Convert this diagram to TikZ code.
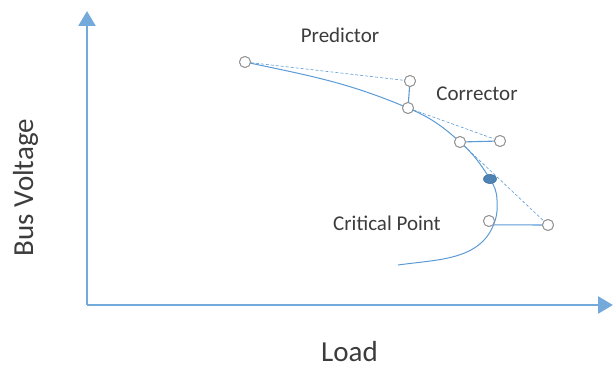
\documentclass[tikz,border=0pt]{standalone}
\usepackage{fontspec}
\setmainfont{Carlito}
\usepackage{xcolor}
\usetikzlibrary{arrows.meta,shapes.geometric}
\definecolor{accent}{RGB}{91,155,213}
\definecolor{txtgray}{RGB}{60,60,60}

\begin{document}
\begin{tikzpicture}[
    x=1pt,y=-1pt,
    font=\fontsize{21}{25}\selectfont,
    lbl/.style={text=txtgray,inner sep=0pt},
    biglbl/.style={lbl,font=\fontsize{29}{34}\selectfont,anchor=base},
    pt/.style={circle,draw=gray!85,fill=white,line width=0.9pt,minimum size=11pt,inner sep=0pt},
    critpt/.style={ellipse,draw=accent!70!black,fill=accent!85!black,line width=0.6pt,minimum width=13pt,minimum height=9pt,inner sep=0pt},
    pv/.style={accent,line width=1pt},
    dsh/.style={accent,densely dashed,line width=0.6pt},
    lnk/.style={accent,line width=1.1pt},
    axis/.style={accent!85,line width=2.6pt,-{Triangle[length=15pt,width=17pt]}}
  ]
    \useasboundingbox (0,0) rectangle (613,366);
    % axes
    \coordinate (orig) at (87,305);
    \coordinate (ytop) at (87,11);
    \coordinate (xend) at (613,305);
    \draw[axis] (orig) -- (ytop);
    \draw[axis] (orig) -- (xend);
    % points along the curve
    \coordinate (nose) at (497,200);
    \coordinate (tail) at (398,265);
    \node[pt] (start) at (245,62) {};
    \node[pt] (pred1) at (410,81) {};
    \node[pt] (corr1) at (408,108) {};
    \node[pt] (pred2) at (500,141) {};
    \node[pt] (corr2) at (460,142) {};
    \node[pt] (pred3) at (548,225) {};
    \node[pt] (corr3) at (489,221) {};
    % PV curve
    \draw[pv] (start.center) to[out=-12,in=157] (corr1.center)
      to[out=-23,in=138] (corr2.center)
      to[out=-42,in=122] (490,179)
      to[out=-58,in=92] (nose)
      to[out=-88,in=72] (corr3.east)
      to[out=-108,in=8] (tail);
    \node[critpt] (crit) at (490,179) {};
    % predictor / corrector steps
    \draw[dsh] (start) -- (pred1);
    \draw[lnk] (pred1) -- (corr1);
    \draw[dsh] (corr1) -- (pred2);
    \draw[lnk] (pred2) -- (corr2);
    \draw[dsh] (corr2) -- (pred3);
    \draw[lnk] (pred3) -- (corr3.-40);
    % redraw circles on top
    \foreach \n in {start,pred1,corr1,pred2,corr2,pred3,corr3}
      \node[pt] at (\n) {};
    % labels
    \node[lbl] (tpred) at (340,35) {Predictor};
    \node[lbl] (tcorr) at (477,94) {Corrector};
    \node[lbl] (tcrit) at (387,223) {Critical Point};
    \node[biglbl,rotate=90] (tvolt) at (33,187.5) {Bus Voltage};
    \node[biglbl,text depth=0pt] (tload) at (349.5,361) {Load};
  \end{tikzpicture}
\end{document}
